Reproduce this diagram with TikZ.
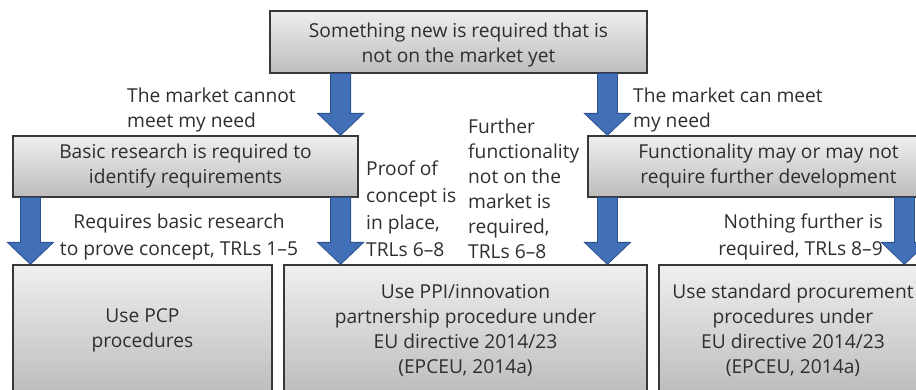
\documentclass[tikz,border=0pt]{standalone}
\usepackage{fontspec}
\setmainfont{Open Sans}
\usetikzlibrary{calc}

\definecolor{boxtop}{HTML}{EFEFEF}
\definecolor{boxbottom}{HTML}{BCBCBC}
\definecolor{boxedge}{HTML}{383838}
\definecolor{arrowblue}{HTML}{4170B6}
\definecolor{arrowedge}{HTML}{2D5290}
\definecolor{textgray}{HTML}{2E2E2E}

\newcommand{\diagfont}{\fontsize{19.2}{25}\selectfont}
\newcommand{\loosefont}{\fontsize{19.2}{27}\selectfont}

\begin{document}
\begin{tikzpicture}
  [x=1pt,y=-1pt,
  box/.style={draw=boxedge,line width=1.2pt,top color=boxtop,bottom color=boxbottom,
    inner sep=0pt,align=center,text=textgray,font=\diagfont},
  note/.style={inner sep=0pt,text=textgray,font=\diagfont},
  fatarrow/.style={draw=arrowedge,fill=arrowblue,line width=0.8pt,
    to path={let \p1=(\tikztostart), \p2=(\tikztotarget) in
      (\x2-10pt,\y1) -- (\x2-10pt,\y2+22pt) -- (\x2-23pt,\y2+22pt) -- (\p2)
      -- (\x2+23pt,\y2+22pt) -- (\x2+10pt,\y2+22pt) -- (\x2+10pt,\y1) -- cycle}}]
  \useasboundingbox (0,0) rectangle (916,390);
  \clip (0,0) rectangle (916,390);

  % boxes
  \node[box,minimum width=377pt,minimum height=62pt] (top) at (458.5,42)
    {\rule{0pt}{20pt}Something new is required that is\\not on the market yet};
  \node[box,minimum width=345pt,minimum height=61pt] (basic) at (185.5,166.5)
    {Basic research is required to\\identify requirements};
  \node[box,minimum width=361pt,minimum height=61pt] (func) at (768.5,166.5)
    {Functionality may or may not\\require further development};
  \node[box,minimum width=259pt,minimum height=130pt] (pcp) at (142.5,330)
    {Use PCP\\procedures};
  \node[box,minimum width=363pt,minimum height=130pt] (ppi) at (465.5,330)
    {Use PPI/innovation\\partnership procedure under\\EU directive 2014/23\\(EPCEU, 2014a)};
  \node[box,minimum width=268pt,minimum height=130pt] (std) at (793,330)
    {Use standard procurement\\procedures under\\EU directive 2014/23\\(EPCEU, 2014a)};

  % arrow tips
  \coordinate (t1) at ([xshift=-18pt]basic.north east);
  \coordinate (t2) at ([xshift=20pt]func.north west);
  \coordinate (t3) at ([xshift=18pt]pcp.north west);
  \coordinate (t4) at (ppi.north -| t1);
  \coordinate (t5) at (ppi.north -| t2);
  \coordinate (t6) at ($(std.north west)+(246,0)$);

  \draw[fatarrow] (top.south -| t1) to (t1);
  \draw[fatarrow] (top.south -| t2) to (t2);
  \draw[fatarrow] (basic.south -| t3) to (t3);
  \draw[fatarrow] (basic.south -| t4) to (t4);
  \draw[fatarrow] (func.south -| t5) to (t5);
  \draw[fatarrow] (func.south -| t6) to (t6);

  % labels
  \node[note,anchor=west,align=left] (cannot) at (127,110)
    {The market cannot\\meet my need};
  \node[note,anchor=west,align=left] (canmeet) at (633,110)
    {The market can meet\\my need};
  \node[note,anchor=west,align=left,font=\loosefont] (proof) at (366,209)
    {Proof of\\concept is\\in place,\\TRLs 6--8};
  \node[note,anchor=west,align=left] (further) at (468,189)
    {Further\\functionality\\not on the\\market is\\required,\\TRLs 6--8};
  \node[note,align=center,font=\loosefont] (basicneed) at (179,237)
    {Requires basic research\\to prove concept, TRLs 1--5};
  \node[note,anchor=east,align=right,font=\loosefont] (nothing) at (883,237)
    {Nothing further is\\required, TRLs 8--9};
\end{tikzpicture}
\end{document}
